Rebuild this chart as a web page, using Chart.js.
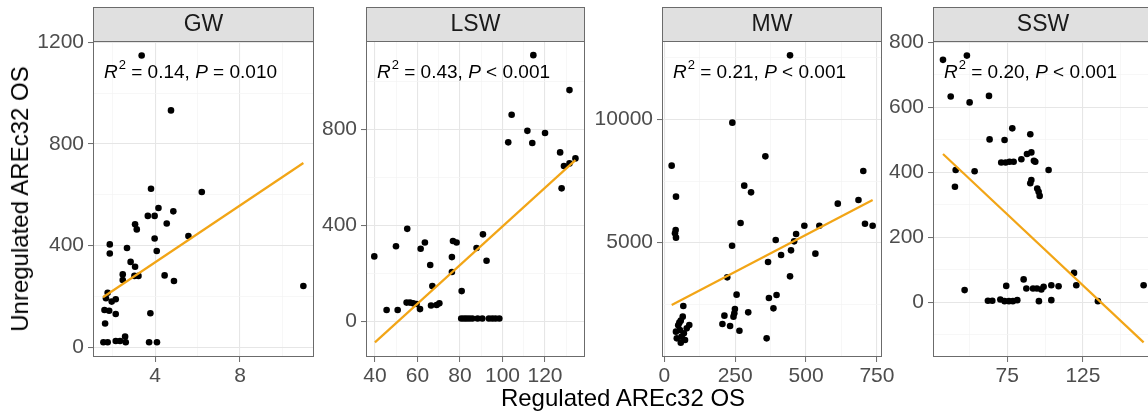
<!DOCTYPE html>
<html>
<head>
<meta charset="utf-8">
<script src="https://cdn.jsdelivr.net/npm/chart.js@4.4.0/dist/chart.umd.min.js"></script>
<style>
html, body { margin: 0; padding: 0; background: #fff; overflow: hidden; }
#wrap { position: relative; width: 1148px; height: 415px; overflow: hidden; }
#wrap canvas { position: absolute; left: 0; top: 0; }
.ttl { position: absolute; font-family: "Liberation Sans", Arial, sans-serif; font-size: 24px; color: #000; white-space: nowrap; }
#xt { left: 623px; top: 398px; transform: translate(-50%, -50%); }
#yt { left: 20px; top: 199px; transform: translate(-50%, -50%) rotate(-90deg); }
</style>
</head>
<body>
<div id="wrap">
  <canvas id="c1" width="1160" height="415"></canvas>
  <canvas id="c2" width="1160" height="415"></canvas>
  <canvas id="c3" width="1160" height="415"></canvas>
  <canvas id="c4" width="1160" height="415"></canvas>
  <div class="ttl" id="xt">Regulated AREc32 OS</div>
  <div class="ttl" id="yt">Unregulated AREc32 OS</div>
</div>
<script>
const facets = ["GW", "LSW", "MW", "SSW"];
const statR2 = ["0.14", "0.43", "0.21", "0.20"];
const statP = ["= 0.010", "< 0.001", "< 0.001", "< 0.001"];

// GW
const gwX = [3.37, 4.75, 3.81, 6.2, 4.16, 4.86, 3.66, 3.98, 3.06, 3.14, 4.55, 5.57, 3.98, 1.87, 4.08,
  1.87, 2.68, 2.85, 3.06, 2.48, 2.48, 3.03, 3.22, 4.45, 4.89, 1.77, 1.69, 1.96, 2.15, 1.62,
  1.84, 2.15, 3.78, 1.65, 2.59, 1.57, 1.77, 2.15, 2.35, 2.62, 3.72, 4.09, 10.98];
const gwY = [1148, 932, 624, 611, 548, 535, 517, 517, 484, 464, 487, 438, 428, 405, 379,
  369, 391, 336, 317, 287, 265, 281, 281, 283, 261, 215, 193, 180, 189, 147,
  144, 131, 134, 94, 42, 20, 20, 25, 25, 20, 20, 20, 241];
const gwFitX = [1.55, 10.98];
const gwFitY = [197, 725];
const gwXTicks = [4, 8];
const gwXMinor = [2, 6, 10];
const gwYTicks = [0, 400, 800, 1200];
const gwYMinor = [200, 600, 1000];

// LSW
const lswX = [114.5, 131.5, 104.3, 102.7, 111.7, 114.0, 120.0, 127.1, 128.9, 131.5, 134.3, 127.8,
  39.7, 55.2, 49.9, 45.5, 50.7, 63.5, 61.5, 66.0, 67.0, 76.7, 78.4, 76.2, 76.2, 87.8, 90.8, 92.5,
  80.8, 54.9, 56.5, 58.0, 59.6, 61.2, 66.4, 69.0, 70.3,
  80.6, 81.9, 83.1, 84.4, 85.8, 88.3, 90.5, 93.6, 95.2, 96.7, 98.5];
const lswY = [1110, 964, 861, 746, 794, 743, 785, 704, 647, 658, 679, 554,
  270, 385, 312, 46, 46, 328, 302, 234, 146, 334, 328, 267, 205, 305, 362, 252,
  125, 77, 77, 74, 71, 50, 65, 67, 74,
  11, 11, 11, 11, 11, 11, 11, 11, 11, 11, 11];
const lswFitX = [40, 134.3];
const lswFitY = [-89, 672];
const lswXTicks = [40, 60, 80, 100, 120];
const lswXMinor = [50, 70, 90, 110, 130];
const lswYTicks = [0, 400, 800];
const lswYMinor = [200, 600, 1000];

// MW
const mwX = [443.5, 240, 25.9, 356.5, 282, 306, 41.2, 40, 37.6, 41.2, 269, 239, 222, 255, 393,
  458, 494, 547, 465, 447, 412, 366, 533, 443.5, 612, 685, 702, 708, 735, 369,
  396, 385, 296, 249, 247, 244, 212, 205, 232, 265, 361,
  67, 65, 58, 53, 49, 88, 79, 41, 55, 69, 61, 44, 73, 58];
const mwY = [12595, 9865, 8122, 8500, 7311, 7041, 6865, 5514, 5378, 5203, 5797, 4878, 3595, 2892, 5108,
  5054, 5689, 5689, 5351, 4689, 4500, 4216, 4554, 3635, 6581, 6730, 7905, 5770, 5689, 2757,
  2878, 2338, 2176, 2311, 2135, 2000, 2041, 1703, 1622, 1432, 1122,
  2432, 2000, 1838, 1757, 1649, 1662, 1527, 1392, 1459, 1324, 1189, 1122, 1054, 946];
const mwFitX = [26, 735];
const mwFitY = [2473, 6730];
const mwXTicks = [0, 250, 500, 750];
const mwXMinor = [125, 375, 625];
const mwYTicks = [5000, 10000];
const mwYMinor = [2500, 7500, 12500];

// SSW
const sswX = [32.5, 48.3, 37.6, 50.1, 62.9, 63.3, 73.2, 78.3, 90.2, 40.9, 53.4, 40.4,
  71.0, 73.9, 76.5, 79.2, 84.3, 88.0, 90.9, 92.6, 93.5, 90.9, 90.2, 94.8, 95.7, 96.4, 102.3,
  46.8, 74.3, 85.8, 87.6, 92.0, 94.6, 97.5, 99.0, 104.1, 108.9, 119.1, 120.6, 134.9, 165.1,
  62.2, 65.1, 70.4, 73.2, 76.1, 78.7, 81.6, 95.9, 104.1];
const sswY = [746, 759, 633, 615, 635, 501, 499, 535, 517, 407, 403, 355,
  430, 430, 432, 432, 440, 456, 461, 435, 432, 376, 366, 350, 340, 327, 407,
  37, 50, 70, 42, 42, 42, 39, 47, 52, 49, 90, 52, 3, 52,
  4, 4, 8, 3, 3, 3, 6, 3, 6];
const sswFitX = [32.5, 165.1];
const sswFitY = [456, -124];
const sswXTicks = [75, 125];
const sswXMinor = [50, 100, 150];
const sswYTicks = [0, 200, 400, 600, 800];
const sswYMinor = [-100, 100, 300, 500, 700];

const FONT = '"Liberation Sans", Arial, sans-serif';
const YW = 80; // fixed width of every y axis box

const facetDeco = {
  id: 'facetDeco',
  afterDatasetsDraw(chart, args, o) {
    const ctx = chart.ctx, a = chart.chartArea;
    ctx.save();
    ctx.fillStyle = '#000';
    ctx.textBaseline = 'alphabetic';
    ctx.textAlign = 'left';
    let x = a.left + 11, y = 78;
    ctx.font = 'italic 19px ' + FONT;
    ctx.fillText('R', x, y);
    x += ctx.measureText('R').width + 1;
    ctx.font = '13px ' + FONT;
    ctx.fillText('2', x, y - 9);
    x += ctx.measureText('2').width;
    ctx.font = '19px ' + FONT;
    let s = ' = ' + o.r2 + ', ';
    ctx.fillText(s, x, y);
    x += ctx.measureText(s).width;
    ctx.font = 'italic 19px ' + FONT;
    ctx.fillText('P', x, y);
    x += ctx.measureText('P').width;
    ctx.font = '19px ' + FONT;
    ctx.fillText(' ' + o.p, x, y);
    ctx.restore();
  },
  afterDraw(chart, args, o) {
    const ctx = chart.ctx, a = chart.chartArea;
    ctx.save();
    // strip
    ctx.fillStyle = '#E0E0E0';
    ctx.fillRect(a.left, 7, a.right - a.left, 34);
    ctx.strokeStyle = '#6b6b6b';
    ctx.lineWidth = 1;
    ctx.strokeRect(a.left + 0.5, 7.5, a.right - a.left - 1, 34);
    ctx.fillStyle = '#1A1A1A';
    ctx.font = '23px ' + FONT;
    ctx.textAlign = 'center';
    ctx.textBaseline = 'middle';
    ctx.fillText(o.name, (a.left + a.right) / 2, 25);
    // panel border
    ctx.strokeRect(a.left + 0.5, a.top + 0.5, a.right - a.left - 1, a.bottom - a.top - 1);
    ctx.restore();
  }
};

function axis(min, max, major, minor, isX) {
  const all = major.concat(minor).filter(v => v >= min && v <= max).sort((p, q) => p - q);
  return {
    type: 'linear',
    min: min,
    max: max,
    afterBuildTicks: s => { s.ticks = all.map(v => ({ value: v })); },
    afterFit: s => { if (isX) s.height = 58; else s.width = YW; },
    border: { display: false },
    grid: {
      color: c => major.includes(c.tick.value) ? '#E6E6E6' : '#F3F3F3',
      lineWidth: c => major.includes(c.tick.value) ? 1.1 : 0.7,
      tickColor: c => major.includes(c.tick.value) ? '#6b6b6b' : 'rgba(0,0,0,0)',
      tickLength: 5,
      tickWidth: 1
    },
    ticks: {
      autoSkip: false,
      maxRotation: 0,
      minRotation: 0,
      padding: isX ? 2 : 4,
      color: '#4D4D4D',
      font: { family: FONT, size: 21 },
      callback: v => major.includes(v) ? String(v) : ''
    }
  };
}

function makePanel(id, k, xs, ys, fx, fy, xr, yr, xt, xm, yt, ym, left, right) {
  new Chart(document.getElementById(id), {
    type: 'scatter',
    data: {
      datasets: [
        {
          data: fx.map((v, i) => ({ x: v, y: fy[i] })),
          showLine: true,
          borderColor: '#F2A516',
          borderWidth: 2.2,
          pointRadius: 0,
          order: 0
        },
        {
          data: xs.map((v, i) => ({ x: v, y: ys[i] })),
          backgroundColor: '#000',
          borderWidth: 0,
          pointRadius: 3.3,
          order: 1
        }
      ]
    },
    options: {
      responsive: false,
      animation: false,
      devicePixelRatio: 1,
      layout: { padding: { left: left - YW, right: 1160 - right, top: 41, bottom: 0 } },
      plugins: {
        legend: { display: false },
        tooltip: { enabled: false },
        facetDeco: { name: facets[k], r2: statR2[k], p: statP[k] }
      },
      scales: {
        x: axis(xr[0], xr[1], xt, xm, true),
        y: axis(yr[0], yr[1], yt, ym, false)
      }
    },
    plugins: [facetDeco]
  });
}

makePanel('c1', 0, gwX, gwY, gwFitX, gwFitY, [1.08, 11.48], [-38, 1205], gwXTicks, gwXMinor, gwYTicks, gwYMinor, 93, 314);
makePanel('c2', 1, lswX, lswY, lswFitX, lswFitY, [35.8, 138.8], [-150, 1169], lswXTicks, lswXMinor, lswYTicks, lswYMinor, 366, 585);
makePanel('c3', 2, mwX, mwY, mwFitX, mwFitY, [-8.2, 768], [365, 13176], mwXTicks, mwXMinor, mwYTicks, mwYMinor, 662, 882);
makePanel('c4', 3, sswX, sswY, sswFitX, sswFitY, [25.9, 171.3], [-169, 804], sswXTicks, sswXMinor, sswYTicks, sswYMinor, 933, 1153);
</script>
</body>
</html>
